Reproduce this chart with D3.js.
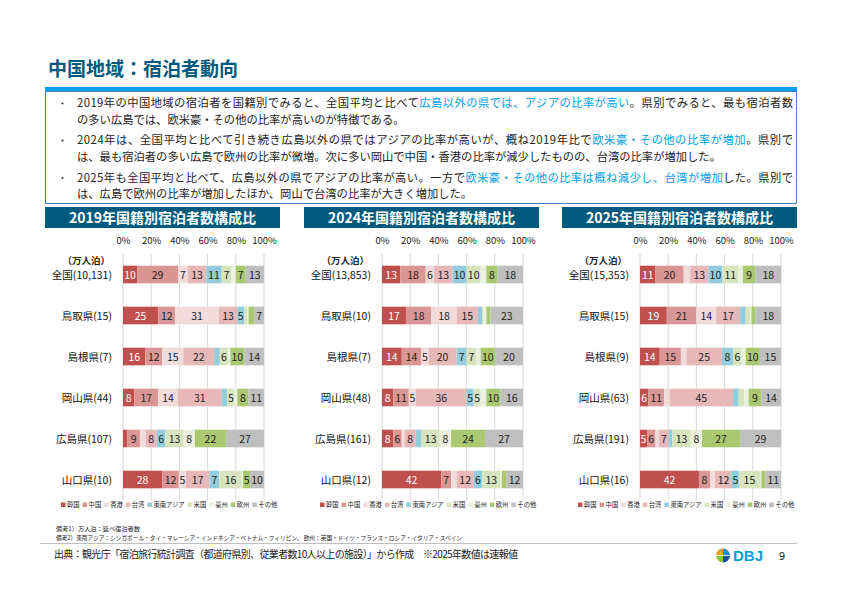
<!DOCTYPE html>
<html lang="ja">
<head>
<meta charset="UTF-8">
<title>中国地域：宿泊者動向</title>
<script src="https://cdn.jsdelivr.net/npm/d3@7.9.0/dist/d3.min.js"></script>
<style>
  body { margin: 0; background: #fff; }
  svg { display: block; font-family: "Noto Sans CJK JP", "Noto Sans", sans-serif; }
</style>
</head>
<body>
<svg id="slide" width="842" height="596"></svg>
<script>
// ---- data (% of overnight guests) ----
const nationalities = ['韓国', '中国', '香港', '台湾', '東南アジア', '米国', '豪州', '欧州', 'その他'];
const nationalityColors = ['#c0504d', '#d99694', '#f2dcdb', '#e6b9b8', '#93cddd', '#d7e4bd', '#ebf1de', '#a9c86f', '#bfbfbf'];
const chartTitles = ['2019年国籍別宿泊者数構成比', '2024年国籍別宿泊者数構成比', '2025年国籍別宿泊者数構成比'];
const tickValues = [0, 0.2, 0.4, 0.6, 0.8, 1];

const rows2019 = ['全国(10,131)', '鳥取県(15)', '島根県(7)', '岡山県(44)', '広島県(107)', '山口県(10)'];
const shares2019 = [
  [10, 29, 7, 13, 11, 7, 3, 7, 13],
  [25, 12, 31, 13, 5, 2, 1, 4, 7],
  [16, 12, 15, 22, 4, 6, 1.5, 10, 14],
  [8, 17, 14, 31, 4, 5, 2, 8, 11],
  [3, 9, 4, 8, 6, 13, 8, 22, 27],
  [28, 12, 5, 17, 7, 16, 1, 5, 10]
];

const rows2024 = ['全国(13,853)', '鳥取県(10)', '島根県(7)', '岡山県(48)', '広島県(161)', '山口県(12)'];
const shares2024 = [
  [13, 18, 6, 13, 10, 10, 4, 8, 18],
  [17, 18, 18, 15, 3, 1, 2, 3, 23],
  [14, 14, 5, 20, 7, 7, 3, 10, 20],
  [8, 11, 5, 36, 5, 5, 4, 10, 16],
  [8, 6, 2, 8, 4, 13, 8, 24, 27],
  [42, 7, 4, 12, 6, 13, 1, 3, 12]
];

const rows2025 = ['全国(15,353)', '鳥取県(15)', '島根県(9)', '岡山県(63)', '広島県(191)', '山口県(16)'];
const shares2025 = [
  [11, 20, 4.5, 13, 10, 11, 3.5, 9, 18],
  [19, 21, 14, 17, 4, 3, 1, 3, 18],
  [14, 15, 4, 25, 8, 6, 3, 10, 15],
  [6, 11, 4, 45, 4, 4, 3, 9, 14],
  [5, 6, 2.5, 7, 2.5, 13, 8, 27, 29],
  [42, 8, 3.5, 12, 5, 15, 1, 3, 11]
];

const allRows = [rows2019, rows2024, rows2025];
const allShares = [shares2019, shares2024, shares2025];

// bullet text: [text, highlighted?] segments per line
const bullets = [
  [
    [['2019年の中国地域の宿泊者を国籍別でみると、全国平均と比べて', false], ['広島以外の県では、アジアの比率が高い', true], ['。県別でみると、最も宿泊者数', false]],
    [['の多い広島では、欧米豪・その他の比率が高いのが特徴である。', false]]
  ],
  [
    [['2024年は、全国平均と比べて引き続き広島以外の県ではアジアの比率が高いが、概ね2019年比で', false], ['欧米豪・その他の比率が増加', true], ['。県別で', false]],
    [['は、最も宿泊者の多い広島で欧州の比率が微増。次に多い岡山で中国・香港の比率が減少したものの、台湾の比率が増加した。', false]]
  ],
  [
    [['2025年も全国平均と比べて、広島以外の県でアジアの比率が高い。一方で', false], ['欧米豪・その他の比率は概ね減少し、台湾が増加', true], ['した。県別で', false]],
    [['は、広島で欧州の比率が増加したほか、岡山で台湾の比率が大きく増加した。', false]]
  ]
];

const teal = '#005a7d';
const cyan = '#00a0e6';
const svg = d3.select('#slide');

// ---- header ----
svg.append('text')
  .attr('x', 48).attr('y', 76)
  .attr('font-size', 19).attr('font-weight', 'bold')
  .attr('fill', teal)
  .text('中国地域：宿泊者動向');

svg.append('rect').attr('x', 45).attr('y', 87).attr('width', 752).attr('height', 4).attr('fill', cyan);
svg.append('rect').attr('x', 45.5).attr('y', 91.5).attr('width', 751).attr('height', 112)
  .attr('fill', 'none').attr('stroke', '#4a7fc0').attr('stroke-width', 1);

// bullets
let lineY = [[107, 123.5], [144, 161], [181.5, 198]];
bullets.forEach((b, i) => {
  svg.append('circle').attr('cx', 62.5).attr('cy', lineY[i][0] - 3.5).attr('r', 1.1).attr('fill', '#333');
  b.forEach((line, j) => {
    let t = svg.append('text')
      .attr('x', 77).attr('y', lineY[i][j])
      .attr('font-size', 11.3).attr('fill', '#222');
    if (j === 0) t.attr('textLength', 716).attr('lengthAdjust', 'spacing');
    line.forEach(seg => {
      t.append('tspan').attr('fill', seg[1] ? cyan : '#222').text(seg[0]);
    });
  });
});

// ---- the three stacked bar charts ----
const panelLefts = [45, 304, 562];
const panelWidth = 235;

allShares.forEach((shares, ci) => {
  let px = panelLefts[ci];
  let rows = allRows[ci];
  let g = svg.append('g');

  // title box
  g.append('rect').attr('x', px).attr('y', 207).attr('width', panelWidth).attr('height', 21).attr('fill', teal);
  g.append('text')
    .attr('x', px + panelWidth / 2).attr('y', 223)
    .attr('text-anchor', 'middle')
    .attr('font-size', 14).attr('font-weight', 'bold').attr('fill', '#fff')
    .text(chartTitles[ci]);

  let table = rows.map((r, j) => {
    let o = { row: r };
    nationalities.forEach((n, k) => o[n] = shares[j][k]);
    return o;
  });

  let x = d3.scaleLinear().domain([0, 1]).range([px + 78, px + 219]);
  let y = d3.scaleBand().domain(rows).range([254, 500]).paddingInner(0.57).paddingOuter(0.285);

  let series = d3.stack().keys(nationalities).offset(d3.stackOffsetExpand)(table);

  // grid
  g.append('g').selectAll('line')
    .data(tickValues)
    .join('line')
    .attr('x1', d => x(d)).attr('x2', d => x(d))
    .attr('y1', 254).attr('y2', 500)
    .attr('stroke', '#d9d9d9').attr('stroke-width', 1);

  // top axis
  let axis = g.append('g')
    .attr('transform', 'translate(0,244)')
    .call(d3.axisTop(x).tickValues(tickValues).tickFormat(d3.format('.0%')).tickSize(0).tickPadding(0));
  axis.select('.domain').remove();
  axis.selectAll('text')
    .attr('font-family', '"Noto Sans CJK JP", sans-serif')
    .attr('font-size', 9.5).attr('fill', '#222').attr('dy', 0);

  // unit
  g.append('text')
    .attr('x', px + 65).attr('y', 263.5)
    .attr('text-anchor', 'end')
    .attr('font-size', 9.5).attr('font-weight', 'bold').attr('fill', '#222')
    .text('（万人泊）');

  // category labels
  g.append('g').selectAll('text')
    .data(rows)
    .join('text')
    .attr('x', px + 67).attr('y', d => y(d) + y.bandwidth() / 2 + 4)
    .attr('text-anchor', 'end')
    .attr('font-size', 10.5).attr('fill', '#111')
    .text(d => d);

  // bars
  let layers = g.append('g').selectAll('g')
    .data(series)
    .join('g')
    .attr('fill', (d, k) => nationalityColors[k]);

  layers.selectAll('rect')
    .data(d => d)
    .join('rect')
    .attr('x', d => x(d[0]))
    .attr('width', d => x(d[1]) - x(d[0]))
    .attr('y', d => y(d.data.row))
    .attr('height', y.bandwidth());

  // value labels (only the wider segments carry a number)
  layers.each(function (s, k) {
    d3.select(this).selectAll('text')
      .data(s.filter(d => d.data[s.key] >= 5))
      .join('text')
      .attr('x', d => (x(d[0]) + x(d[1])) / 2)
      .attr('y', d => y(d.data.row) + y.bandwidth() / 2 + 4)
      .attr('text-anchor', 'middle')
      .attr('font-size', 10.5)
      .attr('fill', k === 0 ? '#fff' : '#222')
      .text(d => d.data[s.key]);
  });

  // legend
  let lg = g.append('g').attr('transform', `translate(${px + 16},505)`);
  let lx = 0;
  nationalities.forEach((n, k) => {
    lg.append('rect').attr('x', lx).attr('y', -2.5).attr('width', 4.5).attr('height', 4.5).attr('fill', nationalityColors[k]);
    let t = lg.append('text').attr('x', lx + 6).attr('y', 2).attr('font-size', 6.3).attr('fill', '#222').text(n);
    lx += 6 + t.node().getComputedTextLength() + 3;
  });
});

// ---- notes and footer ----
svg.append('text').attr('x', 56).attr('y', 530.5).attr('font-size', 6.2).attr('fill', '#222')
  .text('備考1）万人泊：延べ宿泊者数');
svg.append('text').attr('x', 56).attr('y', 539.8).attr('font-size', 6.2).attr('fill', '#222')
  .attr('textLength', 406).attr('lengthAdjust', 'spacingAndGlyphs')
  .text('備考2）東南アジア：シンガポール・タイ・マレーシア・インドネシア・ベトナム・フィリピン、 欧州：英国・ドイツ・フランス・ロシア・イタリア・スペイン');
svg.append('line').attr('x1', 40).attr('x2', 797).attr('y1', 543.5).attr('y2', 543.5)
  .attr('stroke', '#bfbfbf').attr('stroke-width', 1);
svg.append('text').attr('x', 54).attr('y', 558).attr('font-size', 10).attr('fill', '#222')
  .attr('textLength', 464).attr('lengthAdjust', 'spacing')
  .text('出典：観光庁「宿泊旅行統計調査（都道府県別、従業者数10人以上の施設）」から作成　※2025年数値は速報値');

// logo
let logo = svg.append('g').attr('transform', 'translate(723,555.5)');
let arc = d3.arc().innerRadius(0).outerRadius(7);
logo.append('path').attr('d', arc({ startAngle: -Math.PI, endAngle: -Math.PI / 2 })).attr('fill', '#8cc63f');
logo.append('path').attr('d', arc({ startAngle: -Math.PI / 2, endAngle: 0 })).attr('fill', '#f39b1a');
logo.append('path').attr('d', arc({ startAngle: 0, endAngle: Math.PI / 2 })).attr('fill', '#1f8fd6');
logo.append('path').attr('d', arc({ startAngle: Math.PI / 2, endAngle: Math.PI })).attr('fill', '#1d4fa0');
logo.append('line').attr('x1', -7).attr('x2', 7).attr('y1', 0).attr('y2', 0).attr('stroke', '#fff').attr('stroke-width', 0.8);
svg.append('text').attr('x', 733).attr('y', 561).attr('font-size', 15).attr('font-weight', 'bold')
  .attr('font-family', 'Arial, "Liberation Sans", sans-serif').attr('fill', '#00a0d2').text('DBJ');

svg.append('text').attr('x', 779).attr('y', 560).attr('font-size', 11).attr('fill', '#222').text('9');
</script>
</body>
</html>
